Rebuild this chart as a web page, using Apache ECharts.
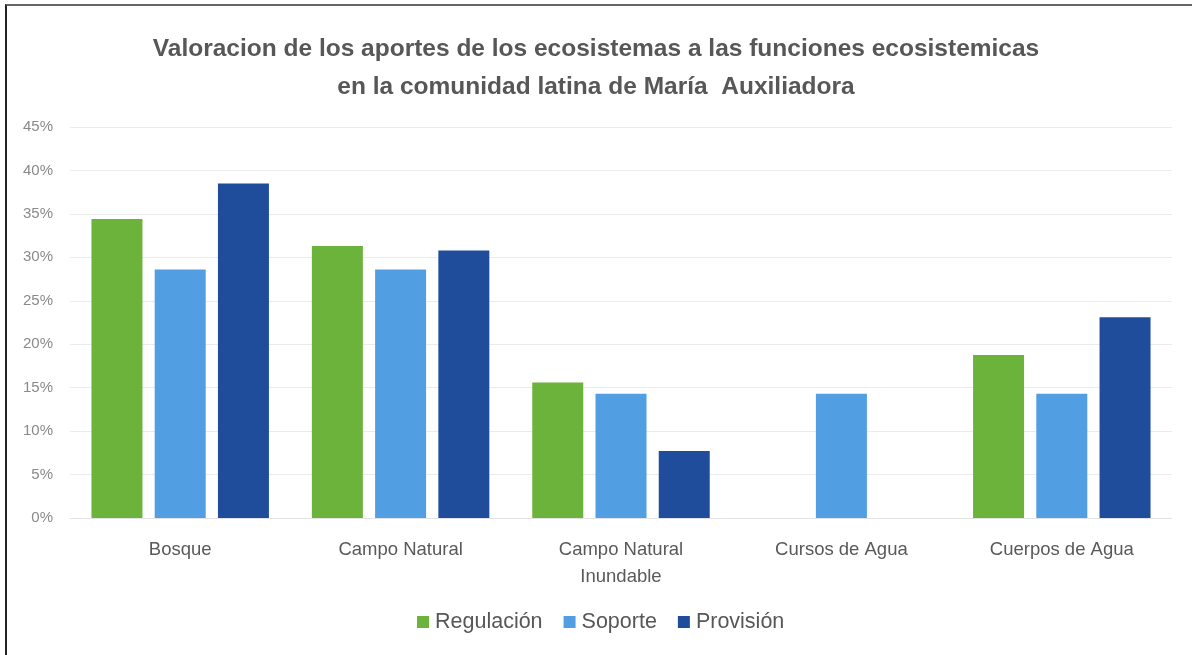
<!DOCTYPE html>
<html>
<head>
<meta charset="utf-8">
<script src="https://cdn.jsdelivr.net/npm/echarts@6/dist/echarts.min.js"></script>
<style>
  html, body { margin: 0; padding: 0; background: #fff; }
  #frame { position: absolute; left: 5px; top: 4px; width: 1187px; height: 651px;
           border-left: 2px solid #222; border-top: 2px solid #666; box-sizing: border-box; }
  #chart { position: absolute; left: 0; top: 0; width: 1192px; height: 655px; }
</style>
</head>
<body>
<div id="frame"></div>
<div id="chart"></div>
<script>
// Ecosystem types (x-axis categories)
const categories = ['Bosque', 'Campo Natural', 'Campo Natural\nInundable', 'Cursos de Agua', 'Cuerpos de Agua'];

// Share of each ecosystem within each function (%)
const regulacion = [34.4, 31.3, 15.6, 0, 18.75];
const soporte    = [28.6, 28.6, 14.3, 14.3, 14.3];
const provision  = [38.5, 30.8, 7.7, 0, 23.1];

const seriesNames = ['Regulación', 'Soporte', 'Provisión'];
const seriesColors = ['#6cb33c', '#519fe2', '#1f4d9b'];

const titleLines = [
  'Valoracion de los aportes de los ecosistemas a las funciones ecosistemicas',
  'en la comunidad latina de María  Auxiliadora'
];

const FONT = '"Liberation Sans", Arial, sans-serif';

const chart = echarts.init(document.getElementById('chart'));

const values = [regulacion, soporte, provision];

chart.setOption({
  backgroundColor: 'transparent',
  animation: false,
  title: {
    text: titleLines.join('\n'),
    left: 'center',
    top: 25,
    textStyle: {
      fontFamily: FONT,
      fontSize: 24.5,
      fontWeight: 'bold',
      color: '#575757',
      lineHeight: 38
    }
  },
  legend: {
    top: 606,
    left: 412,
    itemWidth: 12,
    itemHeight: 12,
    itemGap: 21,
    icon: 'rect',
    textStyle: { fontFamily: FONT, fontSize: 21.5, color: '#575757', padding: [0, 0, 0, 1] },
    data: seriesNames
  },
  grid: { left: 70, right: 20, top: 127, bottom: 137, containLabel: false },
  xAxis: {
    type: 'category',
    data: categories,
    axisLine: { show: true, lineStyle: { color: '#e3e3e3', width: 1 } },
    axisTick: { show: false },
    axisLabel: {
      fontFamily: FONT,
      fontSize: 18.5,
      color: '#595959',
      margin: 18,
      lineHeight: 27,
      interval: 0
    }
  },
  yAxis: {
    type: 'value',
    min: 0,
    max: 45,
    interval: 5,
    axisLine: { show: false },
    axisTick: { show: false },
    axisLabel: {
      formatter: '{value}%',
      fontFamily: FONT,
      fontSize: 15,
      color: '#8a8a8a',
      margin: 17
    },
    splitLine: { lineStyle: { color: '#ebebeb', width: 1 } }
  },
  series: seriesNames.map((name, i) => ({
    name,
    type: 'bar',
    data: values[i],
    barWidth: 51,
    barGap: '24%',
    itemStyle: { color: seriesColors[i] }
  }))
});
</script>
</body>
</html>
